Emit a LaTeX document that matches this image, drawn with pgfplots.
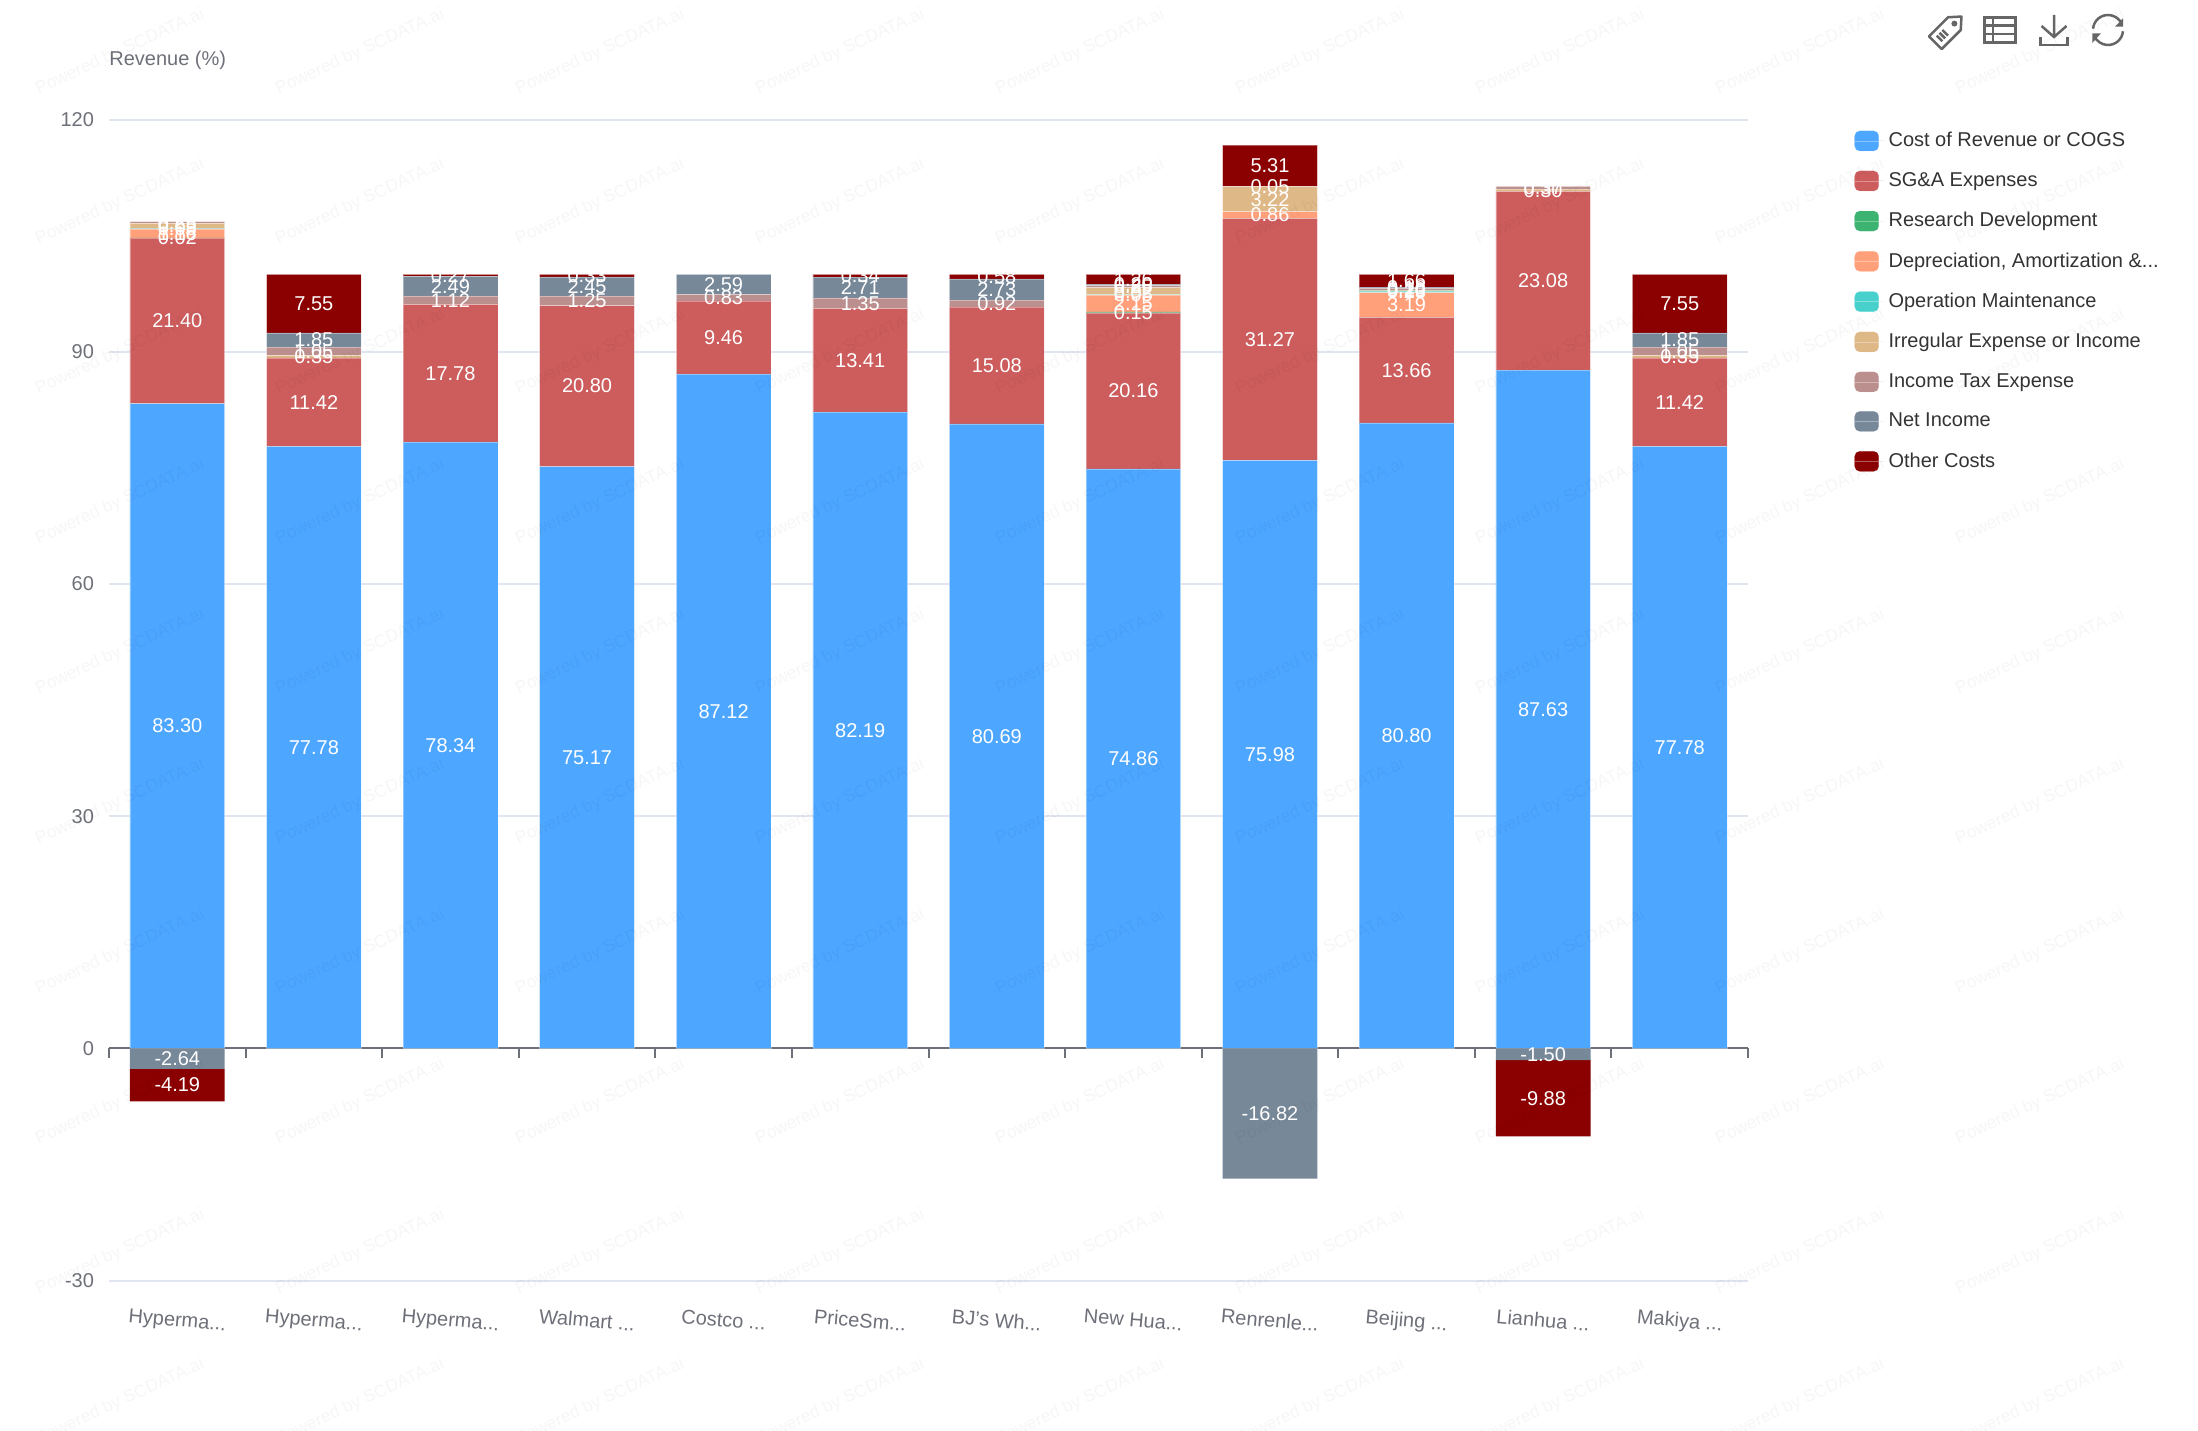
\documentclass[border=0pt]{standalone}
\usepackage{fontspec}
\setmainfont{Liberation Sans}
\usepackage{pgfplots}
\usepackage{pgfplotstable}
\pgfplotsset{compat=1.18}

\definecolor{cogs}{HTML}{4DA6FF}
\definecolor{sga}{HTML}{CD5C5C}
\definecolor{rnd}{HTML}{3CB371}
\definecolor{dna}{HTML}{FFA07A}
\definecolor{opm}{HTML}{48D1CC}
\definecolor{irr}{HTML}{DEB887}
\definecolor{taxc}{HTML}{BC8F8F}
\definecolor{neti}{HTML}{778899}
\definecolor{othc}{HTML}{8B0000}
\definecolor{tickc}{HTML}{6E7079}
\definecolor{gridc}{HTML}{E0E6F1}
\definecolor{legc}{HTML}{333333}
\definecolor{iconc}{HTML}{666666}

% one row per company, negative net/other go to the lower stack
\pgfplotstableread{
idx cost sga rd da op irreg tax net other
0 83.30 21.40 0.02 1.16 0.05 0.65 0.25 -2.64 -4.19
1 77.78 11.42 0.00 0.00 0.00 0.35 1.05 1.85 7.55
2 78.34 17.78 0.00 0.00 0.00 0.00 1.12 2.49 0.27
3 75.17 20.80 0.00 0.00 0.00 0.00 1.25 2.45 0.33
4 87.12 9.46 0.00 0.00 0.00 0.00 0.83 2.59 0.00
5 82.19 13.41 0.00 0.00 0.00 0.00 1.35 2.71 0.34
6 80.69 15.08 0.00 0.00 0.00 0.00 0.92 2.73 0.58
7 74.86 20.16 0.15 2.15 0.05 0.92 0.25 0.20 1.26
8 75.98 31.27 0.00 0.86 0.00 3.22 0.05 -16.82 5.31
9 80.80 13.66 0.00 3.19 0.23 0.10 0.20 0.16 1.66
10 87.63 23.08 0.00 0.00 0.00 0.30 0.37 -1.50 -9.88
11 77.78 11.42 0.00 0.00 0.00 0.35 1.05 1.85 7.55
}\datatable

\newcommand{\bigfont}{\fontsize{10pt}{12pt}\selectfont}
% three dots, as a macro because \foreach trips over literal dots in tick labels
\newcommand{\dd}{.{}.{}.}

\pgfplotsset{
  swatch/.style={
    legend image code/.code={
      \fill[#1,rounded corners=2.5pt] (0pt,-5pt) rectangle (12pt,5pt);
      \path (0pt,0pt) -- (14.8pt,0pt);
    }
  },
  barstack/.style={
    scale only axis,
    width=819.5pt,
    height=580.5pt,
    xmin=-0.5, xmax=11.5,
    ymin=-30, ymax=120,
    ybar stacked,
    bar width=47.35pt,
    clip=false,
    point meta=explicit,
    every node near coord/.append style={
      font=\bigfont, text=white, inner sep=0pt,
    },
  },
}

% positive part of a series, label only where the value is not negative
\newcommand{\upseg}[3]{%
  \addplot[fill=#2, draw=white, draw opacity=0.35, line width=0.25pt,
    swatch=#2,
    nodes near coords={\pgfmathfloatifflags{\pgfplotspointmeta}{2}{}{\pgfmathprintnumber[fixed,fixed zerofill,precision=2,assume math mode=true]{\pgfplotspointmeta}}},
  ] table[x=idx, y expr={max(\thisrow{#1},0)}, meta=#1] {\datatable};
  \addlegendentry{#3}
}
% negative part, label only where the value is negative
\newcommand{\downseg}[2]{%
  \addplot[fill=#2, draw=none,
    nodes near coords={\pgfmathfloatifflags{\pgfplotspointmeta}{2}{\pgfmathprintnumber[fixed,fixed zerofill,precision=2,assume math mode=true]{\pgfplotspointmeta}}{}},
  ] table[x=idx, y expr={min(\thisrow{#1},0)}, meta=#1] {\datatable};
}

\begin{document}
\begin{tikzpicture}
  \path[use as bounding box] (0,0) rectangle (1099pt,715pt);

  \begin{axis}[
      barstack,
      at={(54.5pt,74.7pt)}, anchor=south west,
      axis x line=middle,
      axis y line=left,
      axis line style={-},
      x axis line style={draw=tickc, line width=1pt},
      y axis line style={draw=none},
      hide obscured x ticks=false,
      xtick={-0.5,0.5,...,11.5},
      xticklabels={Hyperma\dd,Hyperma\dd,Hyperma\dd,Walmart \dd,Costco \dd,PriceSm\dd,BJ's Wh\dd,New Hua\dd,Renrenle\dd,Beijing \dd,Lianhua \dd,Makiya \dd},
      x tick label as interval,
      tick align=outside,
      major tick length=5pt,
      xtick style={draw=tickc, line width=1pt},
      ytick={-30,0,30,60,90,120},
      ytick style={draw=none},
      ymajorgrids,
      grid style={gridc, line width=1pt},
      tick label style={font=\bigfont, text=tickc},
      /pgf/number format/assume math mode=true,
      xticklabel style={rotate=-5, xshift=10.75pt, yshift=-123.2pt},
      yticklabel style={xshift=1pt},
      legend cell align=left,
      legend style={
        at={(1.0647,0.9929)}, anchor=north west,
        draw=none, fill=none, inner sep=0pt,
        font=\bigfont, text=legc,
        row sep=7.4pt,
      },
    ]
    \upseg{cost}{cogs}{Cost of Revenue or COGS}
    \upseg{sga}{sga}{SG\&A Expenses}
    \upseg{rd}{rnd}{Research Development}
    \upseg{da}{dna}{Depreciation, Amortization \&...}
    \upseg{op}{opm}{Operation Maintenance}
    \upseg{irreg}{irr}{Irregular Expense or Income}
    \upseg{tax}{taxc}{Income Tax Expense}
    \upseg{net}{neti}{Net Income}
    \upseg{other}{othc}{Other Costs}
  \end{axis}

  % lower stack
  \begin{axis}[
      barstack,
      at={(54.5pt,74.7pt)}, anchor=south west,
      hide axis,
    ]
    \downseg{net}{neti}
    \downseg{other}{othc}
  \end{axis}

  % everything below in image pixels
  \begin{scope}[x=0.5pt, y=-0.5pt, shift={(0pt,715pt)}]
    \node[anchor=west, inner sep=0pt, font=\bigfont, text=tickc] at (109,60.5) {Revenue (\%)};

    % toolbox icons
    \begin{scope}[draw=iconc, line width=1.25pt]
      \begin{scope}[shift={(1948,30)}, rotate=45]
        \draw[line join=round] (-18,-9) -- (9,-9) -- (19,0) -- (9,9) -- (-18,9) -- cycle;
        \fill[iconc] (9,0) circle (3);
        \draw (-12,-4) -- (-12,4) (-8,-4) -- (-8,4) (-4,-4) -- (-4,4);
      \end{scope}
      \draw (1984.5,17.5) rectangle (2015.5,42.5);
      \draw (1984.5,25.5) -- (2015.5,25.5) (1984.5,34) -- (2015.5,34) (1993,17.5) -- (1993,42.5);
      \draw (2054,15) -- (2054,37) (2041.5,26) -- (2054,37) -- (2066.5,26);
      \draw (2040.5,37) -- (2040.5,45) -- (2067.5,45) -- (2067.5,37);
      \begin{scope}[shift={(2108,30)}, y=0.5pt]
        \draw (175:15) arc[start angle=175, end angle=25, radius=15];
        \draw (355:15) arc[start angle=355, end angle=205, radius=15];
        \fill[iconc] (15,11.7) -- (15,3.3) -- (7,3.3) -- cycle;
        \fill[iconc] (-15.7,-13) -- (-15.7,-3.3) -- (-7,-3.3) -- cycle;
      \end{scope}
    \end{scope}

    % watermark
    \foreach \wx in {120,360,...,2040}
      \foreach \wy in {52,202,...,1402}
        \node[rotate=24.7, text=black, text opacity=0.035, font=\fontsize{8.7pt}{10pt}\selectfont] at (\wx,\wy) {Powered by SCDATA.ai};
  \end{scope}
\end{tikzpicture}
\end{document}
